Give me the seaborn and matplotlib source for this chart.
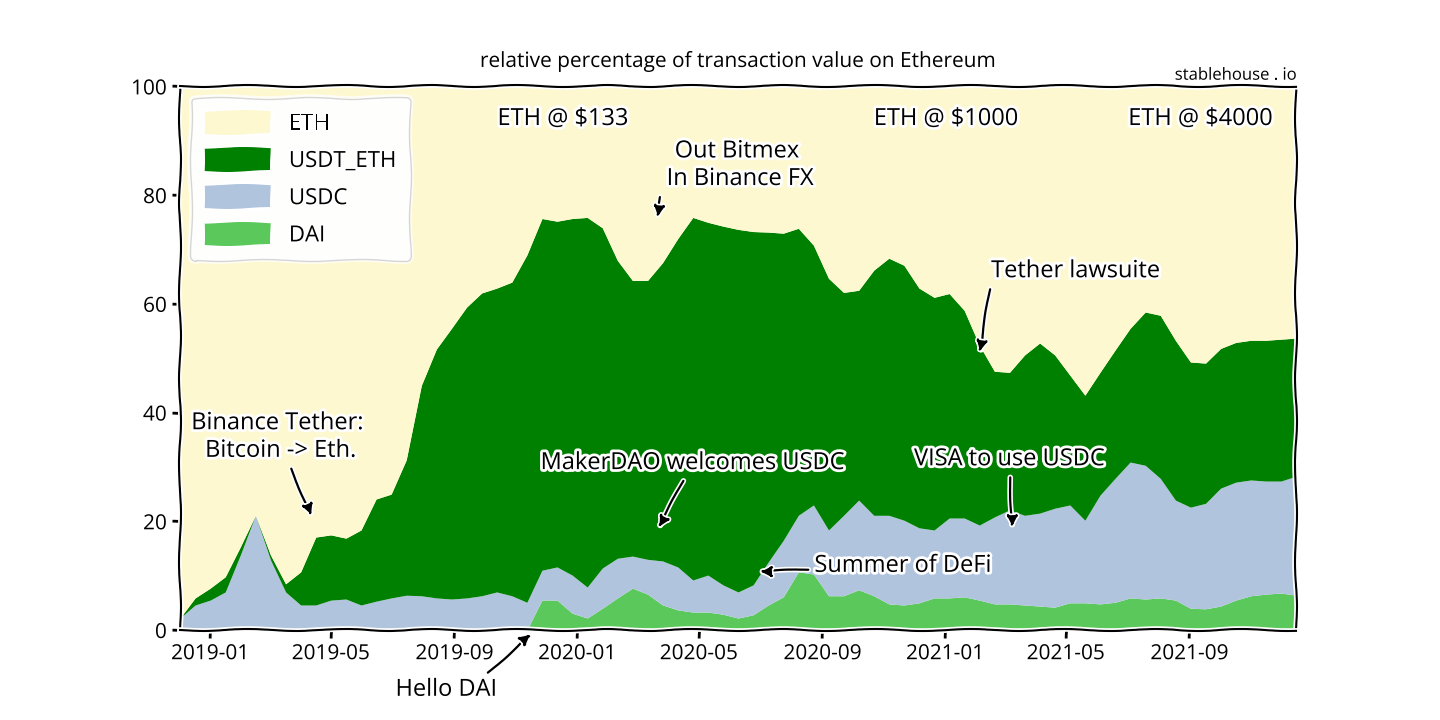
import numpy as np
import pandas as pd
import matplotlib
matplotlib.use("Agg")
import matplotlib.pyplot as plt
import matplotlib.dates as mdates
import seaborn as sns

dates = pd.date_range("2018-12-02", periods=75, freq="15D")

# cumulative top of USDT_ETH layer (DAI+USDC+USDT), in %
total_top = [2.2, 5.9, 7.7, 9.8, 15.3, 21.1, 13.8, 8.5, 10.7, 17.1, 17.5, 16.9, 18.4, 24.1, 25.0,
             31.3, 45.0, 51.7, 55.5, 59.4, 62.0, 62.9, 64.0, 69.0, 75.7, 75.2, 75.7, 75.9, 74.0, 68.0,
             64.3, 64.3, 67.6, 72.0, 75.9, 75.0, 74.3, 73.7, 73.3, 73.2, 73.0, 73.9, 70.8, 64.7, 62.1,
             62.5, 66.2, 68.4, 67.1, 62.9, 61.2, 61.9, 58.8, 52.4, 47.6, 47.4, 50.6, 52.8, 50.6, 46.9,
             43.2, 47.4, 51.5, 55.5, 58.5, 57.9, 53.3, 49.3, 49.1, 51.8, 52.9, 53.3, 53.3, 53.5, 53.7]
# cumulative top of USDC layer (DAI+USDC)
usdc_top = [2.2, 4.6, 5.5, 7.0, 13.8, 21.1, 12.9, 7.0, 4.6, 4.6, 5.5, 5.7, 4.6, 5.3, 5.9,
            6.4, 6.3, 5.9, 5.7, 5.9, 6.3, 7.0, 6.3, 5.1, 11.0, 11.6, 10.1, 7.9, 11.4, 13.2,
            13.6, 13.0, 12.7, 11.6, 9.2, 10.1, 8.3, 7.0, 8.3, 12.5, 16.5, 21.1, 23.0, 18.4, 21.1,
            23.9, 21.1, 21.1, 20.2, 18.8, 18.4, 20.6, 20.6, 19.3, 20.8, 22.1, 21.1, 21.5, 22.4, 23.0,
            20.2, 24.8, 27.9, 30.9, 30.3, 27.9, 23.9, 22.6, 23.3, 26.1, 27.2, 27.6, 27.4, 27.4, 28.3]
# DAI share
dai = [0.0] * 24 + [5.5, 5.5, 3.1, 2.2, 4.0, 5.9,
       7.7, 6.6, 4.6, 3.7, 3.3, 3.3, 2.9, 2.2, 2.8, 4.6, 6.1, 10.7, 10.3, 6.3, 6.3,
       7.4, 6.3, 4.8, 4.6, 5.0, 5.9, 5.9, 6.1, 5.5, 4.8, 4.8, 4.6, 4.4, 4.2, 5.0,
       5.0, 4.8, 5.1, 5.9, 5.7, 5.9, 5.5, 4.0, 3.9, 4.4, 5.5, 6.3, 6.6, 6.8, 6.4]

labels = ["DAI", "USDC", "USDT_ETH", "ETH"]
colors = ["#5ac85a", "#b0c4de", "#008000", "#fdf8d0"]

total_top = np.array(total_top); usdc_top = np.array(usdc_top); dai = np.array(dai)
usdc = usdc_top - dai
usdt = total_top - usdc_top
eth = 100 - total_top

sns.set_theme(style="white")
with plt.xkcd(scale=1, length=100, randomness=2):
    plt.rcParams["font.family"] = ["Open Sans", "DejaVu Sans"]
    plt.rcParams["text.color"] = "black"
    plt.rcParams["xtick.color"] = "black"
    plt.rcParams["ytick.color"] = "black"
    fig, ax = plt.subplots(figsize=(14.4, 7.2), dpi=100)
    fig.subplots_adjust(left=0.125, right=0.9, bottom=0.125, top=0.88)
    ax.stackplot(dates, dai, usdc, usdt, eth, labels=labels, colors=colors, linewidth=0)
    ax.set_xlim(dates[0], dates[-1])
    ax.set_ylim(0, 100)
    ax.xaxis.set_major_locator(mdates.MonthLocator(bymonth=[1, 5, 9]))
    ax.xaxis.set_major_formatter(mdates.DateFormatter("%Y-%m"))
    ax.tick_params(labelsize=15, bottom=True, left=True, length=6, width=2, colors="black")
    for s in ["top", "right", "left", "bottom"]:
        ax.spines[s].set_visible(True)
        ax.spines[s].set_color("black")
    ax.set_title("relative percentage of transaction value on Ethereum", fontsize=15, pad=14)
    ax.text(1.0, 1.005, "stablehouse . io", transform=ax.transAxes, ha="right", va="bottom", fontsize=12)
    h, l = ax.get_legend_handles_labels()
    ax.legend(h[::-1], l[::-1], loc="upper left", fontsize=16, frameon=True, borderpad=0.6,
              handlelength=3, handleheight=1.2, labelspacing=0.6)

    T = pd.Timestamp
    fs = 17
    ax.text(T("2019-12-18"), 94, "ETH @ $133", ha="center", va="center", fontsize=fs)
    ax.text(T("2021-01-02"), 94, "ETH @ $1000", ha="center", va="center", fontsize=fs)
    ax.text(T("2021-09-12"), 94, "ETH @ $4000", ha="center", va="center", fontsize=fs)
    ap = dict(arrowstyle="-|>", color="black", lw=1.6)
    ax.annotate("Binance Tether:\n Bitcoin -> Eth.", xy=(T("2019-04-13"), 20.6),
                xytext=(T("2019-03-09"), 35.5), ha="center", va="center", fontsize=fs, arrowprops=ap)
    ax.annotate("Out Bitmex\n In Binance FX", xy=(T("2020-03-21"), 75.4),
                xytext=(T("2020-06-08"), 85.5), ha="center", va="center", fontsize=fs,
                arrowprops=dict(ap, relpos=(0.0, 0.0)))
    ax.annotate("MakerDAO welcomes USDC", xy=(T("2020-03-21"), 18.4),
                xytext=(T("2020-04-25"), 30.7), ha="center", va="center", fontsize=fs, arrowprops=ap)
    ax.annotate("Tether lawsuite", xy=(T("2021-02-04"), 50.6),
                xytext=(T("2021-05-11"), 66), ha="center", va="center", fontsize=fs,
                arrowprops=dict(ap, relpos=(0.0, 0.0)))
    ax.annotate("VISA to use USDC", xy=(T("2021-03-09"), 18.4),
                xytext=(T("2021-03-06"), 31.4), ha="center", va="center", fontsize=fs, arrowprops=ap)
    ax.annotate("Summer of DeFi", xy=(T("2020-06-28"), 10.7),
                xytext=(T("2020-08-24"), 11.8), ha="left", va="center", fontsize=fs, arrowprops=ap)
    ax.annotate("Hello DAI", xy=(T("2019-11-18"), -0.4),
                xytext=(T("2019-08-24"), -11), ha="center", va="center", fontsize=fs,
                arrowprops=dict(ap, relpos=(0.85, 1.0)), annotation_clip=False)
    fig.savefig("out.png", dpi=100)
